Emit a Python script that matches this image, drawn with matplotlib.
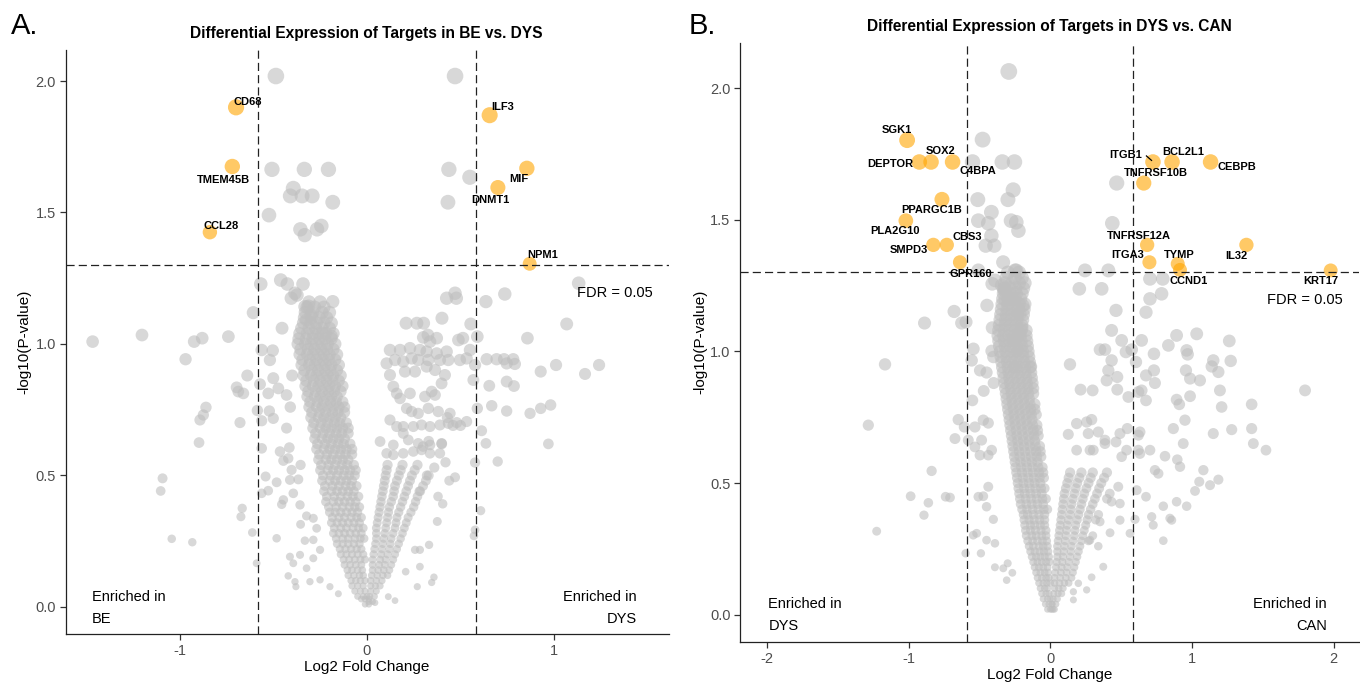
import numpy as np
import matplotlib
matplotlib.use("Agg")
import matplotlib.pyplot as plt

plt.rcParams['font.family'] = ['Liberation Sans', 'DejaVu Sans']

# ---------------- shared thresholds ----------------
fc_cut = 1.5       # fold-change cut (log2 shown)
p_cut = 0.05       # FDR cut

# ---------------- Panel A data (BE vs DYS) ----------------
a_title = "Differential Expression of Targets in BE vs. DYS"
a_groups = ("BE", "DYS")
a_genes = ["CD68", "TMEM45B", "CCL28", "ILF3", "MIF", "DNMT1", "NPM1"]
a_gene_fc = [-0.70, -0.72, -0.84, 0.656, 0.855, 0.70, 0.87]
a_gene_p = [1.90, 1.675, 1.425, 1.87, 1.668, 1.595, 1.305]

# dense core of the left arm: (log10p, [log2fc, ...])
a_core_rows = [
    (1.16, [-0.31, -0.25]),
    (1.14, [-0.32, -0.28, -0.23]),
    (1.12, [-0.33, -0.29, -0.24, -0.20]),
    (1.10, [-0.335, -0.295, -0.255, -0.215]),
    (1.08, [-0.34, -0.30, -0.27, -0.23, -0.19]),
    (1.06, [-0.35, -0.31, -0.275, -0.24, -0.20]),
    (1.04, [-0.36, -0.32, -0.29, -0.26, -0.22, -0.18]),
    (1.02, [-0.365, -0.325, -0.29, -0.255, -0.225, -0.19]),
    (1.00, [-0.37, -0.33, -0.30, -0.27, -0.24, -0.21, -0.17]),
    (0.98, [-0.355, -0.315, -0.28, -0.245, -0.215, -0.18]),
    (0.96, [-0.36, -0.32, -0.29, -0.26, -0.23, -0.20, -0.16]),
    (0.94, [-0.345, -0.305, -0.27, -0.235, -0.205, -0.17]),
    (0.92, [-0.35, -0.31, -0.28, -0.25, -0.22, -0.19, -0.15]),
    (0.90, [-0.335, -0.295, -0.26, -0.225, -0.195, -0.16]),
    (0.88, [-0.34, -0.30, -0.27, -0.24, -0.21, -0.18, -0.14]),
    (0.86, [-0.325, -0.285, -0.25, -0.215, -0.185, -0.15]),
    (0.84, [-0.33, -0.29, -0.26, -0.23, -0.20, -0.17, -0.13]),
    (0.82, [-0.315, -0.275, -0.24, -0.205, -0.175, -0.14]),
    (0.80, [-0.32, -0.28, -0.25, -0.22, -0.19, -0.16]),
    (0.78, [-0.305, -0.265, -0.23, -0.195, -0.165, -0.13]),
    (0.76, [-0.31, -0.27, -0.24, -0.21, -0.18, -0.15, -0.12]),
    (0.74, [-0.295, -0.255, -0.22, -0.185, -0.155, -0.12]),
    (0.72, [-0.30, -0.26, -0.23, -0.20, -0.17, -0.14]),
    (0.70, [-0.285, -0.245, -0.21, -0.175, -0.145, -0.11]),
    (0.68, [-0.29, -0.25, -0.22, -0.19, -0.16, -0.13, -0.10]),
    (0.66, [-0.275, -0.235, -0.20, -0.165, -0.135, -0.10]),
    (0.64, [-0.28, -0.24, -0.21, -0.18, -0.15, -0.12]),
    (0.62, [-0.265, -0.225, -0.19, -0.155, -0.125, -0.09]),
    (0.60, [-0.27, -0.23, -0.20, -0.17, -0.14, -0.11, -0.08]),
    (0.58, [-0.255, -0.215, -0.18, -0.145, -0.115, -0.08]),
    (0.56, [-0.26, -0.22, -0.19, -0.16, -0.13, -0.10]),
    (0.54, [-0.245, -0.205, -0.17, -0.135, -0.105, -0.07]),
    (0.52, [-0.25, -0.21, -0.18, -0.15, -0.12, -0.09, -0.06]),
    (0.50, [-0.235, -0.195, -0.16, -0.125, -0.095, -0.065]),
    (0.48, [-0.24, -0.20, -0.17, -0.14, -0.11, -0.08]),
    (0.46, [-0.225, -0.185, -0.15, -0.115, -0.085, -0.055]),
    (0.44, [-0.23, -0.19, -0.16, -0.13, -0.10, -0.07]),
    (0.42, [-0.215, -0.175, -0.14, -0.105, -0.075, -0.045]),
    (0.40, [-0.22, -0.18, -0.15, -0.12, -0.09, -0.06]),
    (0.38, [-0.205, -0.165, -0.13, -0.095, -0.065, -0.04]),
    (0.36, [-0.20, -0.17, -0.14, -0.11, -0.08, -0.05]),
    (0.34, [-0.185, -0.15, -0.12, -0.085, -0.055, -0.03]),
    (0.32, [-0.19, -0.16, -0.13, -0.10, -0.07, -0.04]),
    (0.30, [-0.175, -0.14, -0.11, -0.075, -0.045, -0.02]),
    (0.28, [-0.18, -0.15, -0.12, -0.09, -0.06, -0.03]),
    (0.26, [-0.165, -0.13, -0.10, -0.065, -0.035, -0.015]),
    (0.24, [-0.16, -0.13, -0.10, -0.07, -0.04]),
    (0.22, [-0.145, -0.115, -0.085, -0.055, -0.03]),
    (0.20, [-0.14, -0.11, -0.08, -0.05, -0.02]),
    (0.18, [-0.125, -0.095, -0.065, -0.035, -0.01]),
    (0.16, [-0.12, -0.09, -0.06, -0.03]),
    (0.14, [-0.105, -0.08, -0.05, -0.025]),
    (0.12, [-0.10, -0.07, -0.04, -0.02]),
    (0.10, [-0.085, -0.06, -0.035, -0.01]),
    (0.08, [-0.08, -0.05, -0.02]),
    (0.06, [-0.065, -0.035, -0.01]),
    (0.04, [-0.05, -0.02, 0.00]),
    (0.03, [-0.03, -0.01, 0.01]),
    (0.01, [-0.01, 0.01]),
]
# right arm of the V
a_arm_rows = [
    (0.02, [0.01, 0.03]),
    (0.04, [0.015, 0.04]),
    (0.06, [0.02, 0.05]),
    (0.08, [0.02, 0.045, 0.07]),
    (0.10, [0.02, 0.05, 0.08]),
    (0.12, [0.025, 0.055, 0.085, 0.11]),
    (0.14, [0.03, 0.06, 0.09, 0.12]),
    (0.16, [0.03, 0.065, 0.095, 0.13]),
    (0.18, [0.03, 0.07, 0.10, 0.14]),
    (0.20, [0.035, 0.075, 0.11, 0.15]),
    (0.22, [0.04, 0.08, 0.12, 0.16]),
    (0.24, [0.045, 0.085, 0.125, 0.17]),
    (0.26, [0.05, 0.09, 0.13, 0.18]),
    (0.28, [0.05, 0.095, 0.14, 0.19]),
    (0.30, [0.05, 0.10, 0.15, 0.20]),
    (0.32, [0.055, 0.105, 0.155, 0.21]),
    (0.34, [0.06, 0.11, 0.16, 0.22]),
    (0.36, [0.065, 0.115, 0.17, 0.235]),
    (0.38, [0.07, 0.12, 0.18, 0.25]),
    (0.40, [0.075, 0.13, 0.19, 0.26]),
    (0.42, [0.08, 0.14, 0.20, 0.27]),
    (0.44, [0.085, 0.145, 0.21, 0.285]),
    (0.46, [0.09, 0.15, 0.22, 0.30]),
    (0.48, [0.095, 0.16, 0.23, 0.315]),
    (0.50, [0.10, 0.17, 0.24, 0.33]),
    (0.52, [0.105, 0.18, 0.255]),
    (0.54, [0.11, 0.19, 0.27]),
]
# individual grey points (log2fc, log10p)
a_scatter = [
    (-0.487, 2.019), (0.471, 2.019), (-0.508, 1.664), (-0.335, 1.664), (-0.206, 1.664),
    (-0.394, 1.592), (-0.41, 1.563), (-0.347, 1.563), (-0.293, 1.563), (-0.183, 1.539),
    (-0.524, 1.490), (-0.356, 1.436), (-0.333, 1.414), (-0.267, 1.436), (-0.244, 1.449),
    (0.438, 1.664), (0.55, 1.634), (0.433, 1.539),
    (-0.568, 1.228), (-0.461, 1.243), (-0.426, 1.228), (-0.342, 1.228), (-0.374, 1.186),
    (-0.405, 1.174), (-0.312, 1.144), (-0.30, 1.11), (-0.183, 1.161), (-0.608, 1.119),
    (-0.454, 1.06), (-1.203, 1.034), (-1.467, 1.009), (-0.881, 1.022), (-0.924, 1.009),
    (-0.741, 1.028), (-0.19, 1.03), (-0.235, 1.041), (-0.97, 0.942), (-0.385, 1.193),
    (-0.332, 1.142), (-0.323, 1.091), (-0.563, 0.977), (-0.504, 0.975), (-0.519, 0.939),
    (-0.64, 0.88), (-0.697, 0.835), (-0.661, 0.812), (-0.688, 0.819), (-0.572, 0.847),
    (-0.528, 0.812), (-0.474, 0.831), (-0.43, 0.806), (-0.501, 0.87), (-0.861, 0.759),
    (-0.875, 0.73), (-0.893, 0.711), (-0.679, 0.701), (-0.586, 0.747), (-0.563, 0.708),
    (-0.522, 0.745), (-0.501, 0.717), (-0.898, 0.625), (-0.563, 0.603), (-0.465, 0.591),
    (-0.415, 0.606), (-0.40, 0.88), (-0.41, 0.76), (-0.43, 0.68),
    (-1.093, 0.489), (-1.103, 0.441), (-1.044, 0.259), (-0.934, 0.246), (-0.667, 0.375),
    (-0.674, 0.343), (-0.613, 0.283), (-0.59, 0.166), (-0.542, 0.496), (-0.563, 0.432),
    (-0.528, 0.442), (-0.483, 0.474), (-0.421, 0.565), (-0.447, 0.556), (-0.355, 0.54),
    (-0.403, 0.521), (-0.412, 0.483), (-0.367, 0.485), (-0.447, 0.407), (-0.456, 0.39),
    (-0.358, 0.388), (-0.394, 0.432), (-0.323, 0.346), (-0.355, 0.314), (-0.287, 0.337),
    (-0.269, 0.299), (-0.483, 0.261), (-0.332, 0.252), (-0.287, 0.255), (-0.251, 0.217),
    (-0.412, 0.191), (-0.394, 0.166), (-0.358, 0.198), (-0.287, 0.185), (-0.323, 0.147),
    (-0.421, 0.118), (-0.385, 0.096), (-0.38, 0.077), (-0.305, 0.096), (-0.251, 0.103),
    (-0.198, 0.077), (-0.153, 0.05),
    (0.426, 1.174), (0.478, 1.174), (0.471, 1.193), (0.636, 1.161), (0.737, 1.19),
    (1.132, 1.231), (0.209, 1.079), (0.267, 1.079), (0.303, 1.079), (0.401, 1.098),
    (0.555, 1.076), (1.068, 1.076), (0.858, 1.022), (0.326, 1.034), (0.373, 1.022),
    (0.513, 1.022), (0.59, 1.028), (0.64, 0.942), (0.693, 0.942), (0.733, 0.942),
    (0.782, 0.942), (0.791, 0.924), (0.747, 0.926), (0.929, 0.895), (1.011, 0.92),
    (1.166, 0.886), (1.241, 0.92), (0.654, 0.841), (0.747, 0.857), (0.786, 0.84),
    (0.59, 0.755), (0.667, 0.765), (0.747, 0.745), (0.872, 0.736), (0.929, 0.755),
    (0.982, 0.768), (0.613, 0.67), (0.636, 0.622), (0.97, 0.62), (0.569, 0.863),
    (0.578, 0.92), (0.551, 0.977), (0.497, 0.939), (0.533, 0.945), (0.489, 1.015),
    (0.301, 1.025), (0.337, 1.009),
    (0.578, 0.549), (0.699, 0.553), (0.471, 0.493), (0.405, 0.392), (0.376, 0.325),
    (0.608, 0.366), (0.578, 0.293), (0.572, 0.27), (0.332, 0.236), (0.283, 0.217),
    (0.257, 0.217), (0.283, 0.153), (0.207, 0.134), (0.358, 0.113), (0.346, 0.093),
    (0.269, 0.077), (0.15, 0.024), (0.114, 0.039), (0.043, 0.016),
    (0.43, 0.72), (0.46, 0.69), (0.50, 0.69), (0.40, 0.62), (0.33, 0.63), (0.30, 0.61),
    (0.42, 0.55), (0.36, 0.53), (0.32, 0.50), (0.44, 0.48), (0.28, 0.44), (0.38, 0.42),
    (0.123, 0.977), (0.177, 0.977), (0.23, 0.984), (0.283, 0.977), (0.319, 0.971),
    (0.373, 0.964), (0.426, 0.971), (0.105, 0.926), (0.15, 0.939), (0.194, 0.933),
    (0.239, 0.945), (0.274, 0.939), (0.328, 0.939), (0.39, 0.939), (0.435, 0.939),
    (0.123, 0.882), (0.203, 0.895), (0.257, 0.895), (0.319, 0.914), (0.364, 0.901),
    (0.417, 0.882), (0.141, 0.838), (0.159, 0.812), (0.177, 0.793), (0.23, 0.812),
    (0.31, 0.80), (0.346, 0.819), (0.364, 0.806), (0.399, 0.85), (0.212, 0.755),
    (0.239, 0.743), (0.274, 0.736), (0.328, 0.755), (0.381, 0.743), (0.444, 0.736),
    (0.48, 0.701), (0.533, 0.705), (0.123, 0.711), (0.159, 0.686), (0.194, 0.686),
    (0.248, 0.686), (0.292, 0.692), (0.337, 0.686), (0.39, 0.692), (0.435, 0.698),
    (0.07, 0.629), (0.141, 0.616), (0.194, 0.66), (0.221, 0.635), (0.274, 0.622),
    (0.337, 0.616), (0.399, 0.622), (0.105, 0.584), (0.141, 0.578), (0.194, 0.584),
    (0.248, 0.591), (0.292, 0.597), (0.337, 0.584), (0.39, 0.584),
]

# ---------------- Panel B data (DYS vs CAN) ----------------
b_title = "Differential Expression of Targets in DYS vs. CAN"
b_groups = ("DYS", "CAN")
b_genes = ["SGK1", "DEPTOR", "SOX2", "C4BPA", "PPARGC1B", "PLA2G10", "SMPD3", "CBS3",
           "GPR160", "ITGB1", "BCL2L1", "CEBPB", "TNFRSF10B", "TNFRSF12A", "ITGA3",
           "TYMP", "CCND1", "IL32", "KRT17"]
b_gene_fc = [-1.011, -0.925, -0.842, -0.69, -0.765, -1.02, -0.826, -0.731, -0.638,
             0.725, 0.86, 1.132, 0.66, 0.684, 0.70, 0.90, 0.916, 1.385, 1.98]
b_gene_p = [1.803, 1.72, 1.72, 1.72, 1.578, 1.497, 1.405, 1.405, 1.339,
            1.72, 1.72, 1.72, 1.64, 1.405, 1.339, 1.333, 1.31, 1.405, 1.308]

b_core_rows = [
    (1.30, [-0.30, -0.22]),
    (1.28, [-0.31, -0.25, -0.20]),
    (1.26, [-0.32, -0.27, -0.22, -0.18]),
    (1.24, [-0.325, -0.285, -0.245, -0.19]),
    (1.22, [-0.33, -0.28, -0.24, -0.20]),
    (1.20, [-0.335, -0.29, -0.25, -0.21]),
    (1.18, [-0.34, -0.30, -0.26, -0.22, -0.18]),
    (1.16, [-0.345, -0.305, -0.265, -0.225, -0.185]),
    (1.14, [-0.35, -0.31, -0.27, -0.23, -0.19]),
    (1.12, [-0.355, -0.315, -0.275, -0.235, -0.195]),
    (1.10, [-0.36, -0.32, -0.28, -0.24, -0.20]),
    (1.08, [-0.365, -0.325, -0.285, -0.245, -0.205, -0.17]),
    (1.06, [-0.37, -0.33, -0.29, -0.25, -0.21, -0.17]),
    (1.04, [-0.365, -0.325, -0.285, -0.245, -0.205, -0.165]),
    (1.02, [-0.36, -0.32, -0.28, -0.24, -0.20, -0.16]),
    (1.00, [-0.355, -0.315, -0.275, -0.235, -0.195, -0.155]),
    (0.98, [-0.35, -0.31, -0.27, -0.23, -0.19, -0.15]),
    (0.96, [-0.345, -0.305, -0.265, -0.225, -0.185, -0.145]),
    (0.94, [-0.34, -0.30, -0.26, -0.22, -0.18, -0.14]),
    (0.92, [-0.335, -0.295, -0.255, -0.215, -0.175, -0.135]),
    (0.90, [-0.33, -0.29, -0.25, -0.21, -0.17, -0.13]),
    (0.88, [-0.325, -0.285, -0.245, -0.205, -0.165, -0.125]),
    (0.86, [-0.32, -0.28, -0.24, -0.20, -0.16, -0.12]),
    (0.84, [-0.315, -0.275, -0.235, -0.195, -0.155, -0.12]),
    (0.82, [-0.31, -0.27, -0.23, -0.19, -0.15]),
    (0.80, [-0.305, -0.265, -0.225, -0.185, -0.145, -0.11]),
    (0.78, [-0.30, -0.26, -0.22, -0.18, -0.14, -0.11]),
    (0.76, [-0.295, -0.255, -0.215, -0.175, -0.135, -0.10]),
    (0.74, [-0.29, -0.25, -0.21, -0.17, -0.13]),
    (0.72, [-0.285, -0.245, -0.205, -0.165, -0.125, -0.095]),
    (0.70, [-0.28, -0.24, -0.20, -0.16, -0.12, -0.09]),
    (0.68, [-0.275, -0.235, -0.195, -0.155, -0.115, -0.085]),
    (0.66, [-0.27, -0.23, -0.19, -0.15, -0.11]),
    (0.64, [-0.265, -0.225, -0.185, -0.145, -0.105, -0.075]),
    (0.62, [-0.26, -0.22, -0.18, -0.14, -0.10, -0.07]),
    (0.60, [-0.255, -0.215, -0.175, -0.135, -0.095, -0.065]),
    (0.58, [-0.25, -0.21, -0.17, -0.13, -0.09]),
    (0.56, [-0.245, -0.205, -0.165, -0.125, -0.085, -0.055]),
    (0.54, [-0.24, -0.20, -0.16, -0.12, -0.08, -0.05]),
    (0.52, [-0.235, -0.195, -0.155, -0.115, -0.075, -0.045]),
    (0.50, [-0.23, -0.19, -0.15, -0.11, -0.07]),
    (0.48, [-0.225, -0.185, -0.145, -0.105, -0.065, -0.04]),
    (0.46, [-0.22, -0.18, -0.14, -0.10, -0.06]),
    (0.44, [-0.215, -0.175, -0.135, -0.095, -0.055, -0.03]),
    (0.42, [-0.21, -0.17, -0.13, -0.09, -0.05]),
    (0.40, [-0.20, -0.165, -0.125, -0.085, -0.045, -0.02]),
    (0.38, [-0.19, -0.16, -0.12, -0.08, -0.04]),
    (0.36, [-0.185, -0.15, -0.115, -0.075, -0.04]),
    (0.34, [-0.18, -0.14, -0.11, -0.07, -0.04]),
    (0.32, [-0.175, -0.14, -0.105, -0.065, -0.03]),
    (0.30, [-0.17, -0.13, -0.10, -0.06, -0.03]),
    (0.28, [-0.16, -0.125, -0.09, -0.055, -0.025]),
    (0.26, [-0.15, -0.12, -0.08, -0.05, -0.02]),
    (0.24, [-0.14, -0.11, -0.075, -0.045, -0.015]),
    (0.22, [-0.13, -0.10, -0.07, -0.04, -0.01]),
    (0.20, [-0.12, -0.09, -0.06, -0.03, -0.005]),
    (0.18, [-0.11, -0.08, -0.05, -0.02]),
    (0.16, [-0.10, -0.07, -0.04, -0.015]),
    (0.14, [-0.09, -0.06, -0.03, -0.01]),
    (0.12, [-0.08, -0.05, -0.025, 0.00]),
    (0.10, [-0.07, -0.04, -0.02]),
    (0.08, [-0.06, -0.03, -0.01]),
    (0.06, [-0.05, -0.02, 0.00]),
    (0.04, [-0.035, -0.01, 0.01]),
    (0.02, [-0.02, 0.00, 0.02]),
]
b_arm_rows = [
    (0.02, [0.01, 0.03]),
    (0.04, [0.015, 0.04]),
    (0.06, [0.02, 0.05]),
    (0.08, [0.025, 0.055, 0.08]),
    (0.10, [0.03, 0.06, 0.09]),
    (0.12, [0.03, 0.065, 0.10, 0.13]),
    (0.14, [0.03, 0.07, 0.11, 0.15]),
    (0.16, [0.035, 0.075, 0.115, 0.16]),
    (0.18, [0.04, 0.08, 0.12, 0.17]),
    (0.20, [0.045, 0.085, 0.13, 0.18]),
    (0.22, [0.05, 0.09, 0.14, 0.19]),
    (0.24, [0.05, 0.095, 0.145, 0.20]),
    (0.26, [0.05, 0.10, 0.15, 0.21]),
    (0.28, [0.055, 0.105, 0.16, 0.22, 0.27]),
    (0.30, [0.06, 0.11, 0.17, 0.23, 0.30]),
    (0.32, [0.065, 0.115, 0.175, 0.24]),
    (0.34, [0.07, 0.12, 0.18, 0.25]),
    (0.36, [0.075, 0.13, 0.19, 0.26, 0.32]),
    (0.38, [0.08, 0.14, 0.20, 0.27, 0.34]),
    (0.40, [0.085, 0.145, 0.21, 0.285]),
    (0.42, [0.09, 0.15, 0.22, 0.30]),
    (0.44, [0.095, 0.16, 0.23, 0.315, 0.40]),
    (0.46, [0.10, 0.17, 0.24, 0.33, 0.42]),
    (0.48, [0.11, 0.18, 0.255, 0.345]),
    (0.50, [0.12, 0.19, 0.27, 0.36]),
    (0.52, [0.13, 0.205, 0.285, 0.38]),
    (0.54, [0.14, 0.22, 0.30, 0.40]),
]
b_scatter = [
    (-0.293, 2.064), (-0.478, 1.805), (-0.549, 1.72), (-0.339, 1.72), (-0.253, 1.72),
    (0.469, 1.64), (-0.262, 1.614), (-0.299, 1.577), (-0.512, 1.577), (-0.416, 1.529),
    (-0.508, 1.497), (-0.438, 1.487), (-0.277, 1.497), (-0.24, 1.491), (-0.225, 1.459),
    (-0.416, 1.44), (-0.456, 1.402), (-0.395, 1.402), (0.438, 1.487), (-0.333, 1.339),
    (-0.24, 1.308),
    (-0.327, 1.238), (-0.318, 1.197), (-0.271, 1.2), (-0.41, 1.257), (-0.447, 1.175),
    (-0.194, 1.175), (-0.679, 1.152), (-0.595, 1.112), (-0.888, 1.108), (-0.41, 1.09),
    (-0.20, 1.088), (-0.626, 1.108), (-1.167, 0.951), (-1.285, 0.72), (-0.214, 1.143),
    (-0.221, 1.07), (-0.261, 1.042), (-0.23, 1.004), (-0.543, 1.01), (-0.555, 0.966),
    (-0.496, 0.928), (-0.414, 1.002), (-0.402, 0.979), (-0.249, 0.941), (-0.136, 0.943),
    (-0.55, 0.814), (-0.65, 0.741), (-0.607, 0.713), (-0.673, 0.669), (-0.532, 0.713),
    (-0.473, 0.739), (-0.438, 0.728), (-0.485, 0.663), (-0.414, 0.625), (-0.532, 0.637),
    (-0.325, 1.232), (-0.296, 1.2), (-0.39, 1.27), (-0.343, 1.251), (-0.508, 1.308),
    (-0.249, 1.308), (-0.47, 0.85), (-0.40, 0.88), (-0.45, 0.92),
    (-0.838, 0.546), (-0.986, 0.45), (-0.861, 0.425), (-0.892, 0.378), (-1.226, 0.317),
    (-0.739, 0.448), (-0.708, 0.445), (-0.508, 0.448), (-0.473, 0.45), (-0.438, 0.486),
    (-0.45, 0.41), (-0.402, 0.362), (-0.544, 0.302), (-0.52, 0.309), (-0.45, 0.283),
    (-0.391, 0.271), (-0.49, 0.233), (-0.598, 0.233), (-0.391, 0.18), (-0.332, 0.176),
    (-0.301, 0.195), (-0.268, 0.159), (-0.308, 0.131), (-0.497, 0.606), (-0.438, 0.606),
    (-0.579, 0.663),
    (0.245, 1.308), (0.41, 1.308), (0.205, 1.238), (0.363, 1.238), (0.704, 1.276),
    (0.794, 1.276), (0.704, 1.2), (0.786, 1.219), (0.676, 1.149), (0.464, 1.156),
    (0.433, 1.08), (0.504, 1.042), (0.351, 1.007), (0.386, 1.007), (0.534, 0.998),
    (0.575, 1.007), (0.645, 1.042), (0.892, 1.061), (1.034, 1.067), (0.834, 1.023),
    (0.963, 1.004), (0.97, 0.989), (1.264, 1.04), (0.732, 0.991), (0.139, 0.951),
    (0.433, 0.966), (0.41, 0.928), (0.605, 0.96), (0.732, 0.928), (0.676, 0.909),
    (0.958, 0.928), (0.987, 0.897), (1.057, 0.890), (1.151, 0.966), (1.274, 0.964),
    (1.14, 0.943), (1.187, 0.922), (0.473, 0.903), (0.398, 0.890), (0.473, 0.855),
    (0.214, 0.855), (0.299, 0.852), (0.739, 0.88), (0.551, 0.827), (0.622, 0.846),
    (0.645, 0.852), (0.676, 0.814), (0.892, 0.817), (0.911, 0.799), (0.987, 0.83),
    (1.198, 0.852), (1.21, 0.789), (1.422, 0.799), (1.799, 0.852), (0.951, 0.739),
    (0.869, 0.707), (1.151, 0.688), (1.281, 0.703), (1.422, 0.707), (1.434, 0.65),
    (1.523, 0.625),
    (0.186, 0.726), (0.257, 0.732), (0.292, 0.741), (0.127, 0.685), (0.268, 0.688),
    (0.339, 0.694), (0.386, 0.663), (0.492, 0.688), (0.544, 0.707), (0.622, 0.682),
    (0.633, 0.694), (0.464, 0.656), (0.539, 0.625), (0.622, 0.625), (0.704, 0.625),
    (0.81, 0.602), (0.186, 0.625), (0.304, 0.625),
    (0.28, 0.625), (0.386, 0.65), (0.504, 0.600), (0.633, 0.612), (0.897, 0.589),
    (0.916, 0.562), (1.081, 0.549), (1.187, 0.513), (1.128, 0.492), (1.052, 0.505),
    (1.022, 0.47), (0.939, 0.65), (0.739, 0.549), (0.763, 0.536), (0.61, 0.473),
    (0.676, 0.448), (0.48, 0.486), (0.433, 0.429), (0.492, 0.422), (0.798, 0.412),
    (0.892, 0.429), (0.963, 0.412), (0.716, 0.372), (0.845, 0.366), (0.857, 0.359),
    (0.598, 0.362), (0.492, 0.359), (0.727, 0.34), (0.798, 0.281), (0.563, 0.309),
    (0.422, 0.311), (0.351, 0.353), (0.28, 0.283), (0.339, 0.26), (0.374, 0.182),
    (0.292, 0.142), (0.163, 0.087), (0.163, 0.056), (0.198, 0.119), (0.257, 0.094),
]

# ---------------- layout (label placement, not data) ----------------
a_label_xy = [(-0.636, 1.921), (-0.767, 1.624), (-0.779, 1.449), (0.723, 1.900),
              (0.812, 1.627), (0.658, 1.546), (0.938, 1.337)]
b_label_xy = [(-1.083, 1.842), (-1.129, 1.712), (-0.774, 1.763), (-0.512, 1.687),
              (-0.835, 1.538), (-1.098, 1.459), (-1.002, 1.386), (-0.589, 1.436),
              (-0.561, 1.293), (0.530, 1.747), (0.937, 1.759), (1.317, 1.702),
              (0.746, 1.677), (0.623, 1.439), (0.546, 1.367), (0.910, 1.367),
              (0.977, 1.268), (1.311, 1.363), (1.909, 1.268)]

GREY = '#BEBEBE'
ORANGE = '#FFA500'


def size_of(y):
    return 22 + 60 * np.clip(np.asarray(y, dtype=float), 0, None)


def expand(rows):
    xs, ys = [], []
    for yv, xl in rows:
        for xv in xl:
            xs.append(xv)
            ys.append(yv)
    return xs, ys


def draw_panel(ax, core_rows, arm_rows, scatter, genes, gfc, gp, label_xy,
               xlim, ylim, xticks, yticks, groups, fdr_xy, enr_left, enr_right):
    cx, cy = expand(core_rows)
    rx, ry = expand(arm_rows)
    sx = [p[0] for p in scatter]
    sy = [p[1] for p in scatter]
    gx = np.array(cx + rx + sx)
    gy = np.array(cy + ry + sy)
    ax.scatter(gx, gy, s=size_of(gy), c=GREY, alpha=0.6, linewidths=0, zorder=2)
    ax.scatter(gfc, gp, s=size_of(gp), c=ORANGE, alpha=0.6, linewidths=0, zorder=3)

    lfc = np.log2(fc_cut)
    lp = -np.log10(p_cut)
    for xv in (-lfc, lfc):
        ax.axvline(xv, color='#222222', lw=0.9, ls=(0, (6.5, 3.3)), zorder=4)
    ax.axhline(lp, color='#222222', lw=0.9, ls=(0, (6.5, 3.3)), zorder=4)

    for name, (lx, ly) in zip(genes, label_xy):
        ax.text(lx, ly, name, fontsize=8, fontweight='bold', ha='center',
                va='center', color='black', zorder=6)

    ax.text(fdr_xy[0], fdr_xy[1], "FDR = 0.05", fontsize=10.5, ha='right',
            va='center', zorder=6)
    ax.text(enr_left[0], enr_left[1], "Enriched in", fontsize=10.5, ha='left', va='center')
    ax.text(enr_left[0], enr_left[2], groups[0], fontsize=10.5, ha='left', va='center')
    ax.text(enr_right[0], enr_right[1], "Enriched in", fontsize=10.5, ha='right', va='center')
    ax.text(enr_right[0], enr_right[2], groups[1], fontsize=10.5, ha='right', va='center')

    ax.set_xlim(*xlim)
    ax.set_ylim(*ylim)
    ax.set_xticks(xticks)
    ax.set_xticklabels([f"{t:g}" for t in xticks])
    ax.set_yticks(yticks)
    ax.set_yticklabels([f"{t:.1f}" for t in yticks])
    for side in ('top', 'right'):
        ax.spines[side].set_visible(False)
    for side in ('left', 'bottom'):
        ax.spines[side].set_color('#222222')
        ax.spines[side].set_linewidth(0.9)
    ax.tick_params(axis='both', length=4, width=0.9, color='#333333',
                   labelsize=10.5, labelcolor='#4D4D4D', pad=3)


W, H = 1360, 684
fig = plt.figure(figsize=(W / 100, H / 100), dpi=100)

axA = fig.add_axes([65.5 / W, 1 - 634 / H, (669 - 65.5) / W, (634 - 50) / H])
axB = fig.add_axes([740.3 / W, 1 - 642 / H, (1359 - 740.3) / W, (642 - 43.3) / H])

draw_panel(axA, a_core_rows, a_arm_rows, a_scatter, a_genes, a_gene_fc, a_gene_p,
           a_label_xy, (-1.612, 1.615), (-0.103, 2.118), [-1, 0, 1],
           [0.0, 0.5, 1.0, 1.5, 2.0], a_groups, (1.528, 1.193),
           (-1.469, 0.039, -0.046), (1.442, 0.039, -0.046))
draw_panel(axB, b_core_rows, b_arm_rows, b_scatter, b_genes, b_gene_fc, b_gene_p,
           b_label_xy, (-2.189, 2.18), (-0.104, 2.171), [-2, -1, 0, 1, 2],
           [0.0, 0.5, 1.0, 1.5, 2.0], b_groups, (2.065, 1.196),
           (-1.991, 0.039, -0.045), (1.952, 0.039, -0.045))

# ITGB1 leader line
axB.plot([0.679, 0.715], [1.743, 1.726], color='black', lw=0.9, zorder=5)

# titles and axis labels
fig.text(366.8 / W, 1 - 33.3 / H, a_title, ha='center', va='center',
         fontsize=11.2, fontweight='bold')
fig.text(1049.6 / W, 1 - 26.3 / H, b_title, ha='center', va='center',
         fontsize=11.2, fontweight='bold')
fig.text(11 / W, 1 - 26 / H, "A.", ha='left', va='center', fontsize=21)
fig.text(689 / W, 1 - 26.5 / H, "B.", ha='left', va='center', fontsize=21)
fig.text(367 / W, 1 - 667 / H, "Log2 Fold Change", ha='center', va='center', fontsize=11)
fig.text(1050 / W, 1 - 675 / H, "Log2 Fold Change", ha='center', va='center', fontsize=11)
fig.text(24 / W, 1 - 342 / H, "-log10(P-value)", ha='center', va='center',
         fontsize=11, rotation=90)
fig.text(700 / W, 1 - 342 / H, "-log10(P-value)", ha='center', va='center',
         fontsize=11, rotation=90)

fig.savefig("out.png", dpi=100)
